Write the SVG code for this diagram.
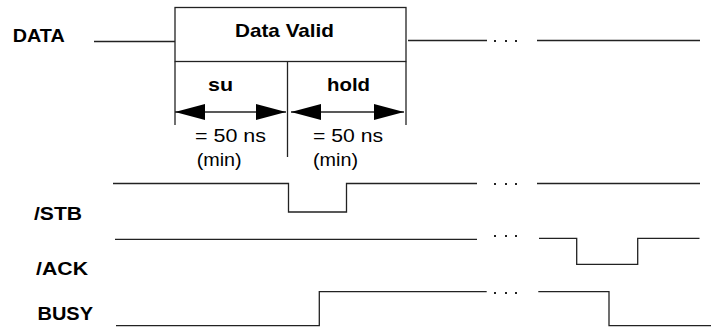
<svg xmlns="http://www.w3.org/2000/svg" width="712" height="328" viewBox="0 0 712 328">
  <defs>
    <style>
      .sig { fill: none; stroke: #222; stroke-width: 1.3; }
      .lbl { font-family: "Liberation Sans", Arial, sans-serif; font-size: 19px; font-weight: bold; fill: #000; }
      .txt { font-family: "Liberation Sans", Arial, sans-serif; font-size: 18px; fill: #000; }
      .dot { fill: #222; }
    </style>
    <marker id="head" viewBox="0 0 30 16" refX="30" refY="8" markerWidth="30" markerHeight="16" markerUnits="userSpaceOnUse" orient="auto-start-reverse">
      <path d="M0,0 L30,8 L0,16 Z" fill="#000"/>
    </marker>
  </defs>
  <rect width="712" height="328" fill="#fff"/>

  <!-- signal names -->
  <g id="label-data"><text class="lbl" x="12.7" y="42" textLength="52" lengthAdjust="spacingAndGlyphs">DATA</text></g>
  <g id="label-stb"><text class="lbl" x="34" y="220" textLength="48" lengthAdjust="spacingAndGlyphs">/STB</text></g>
  <g id="label-ack"><text class="lbl" x="36" y="275" textLength="52" lengthAdjust="spacingAndGlyphs">/ACK</text></g>
  <g id="label-busy"><text class="lbl" x="37.5" y="320" textLength="55.5" lengthAdjust="spacingAndGlyphs">BUSY</text></g>

  <!-- DATA waveform with valid window -->
  <g id="data-valid">
    <rect class="sig" x="175" y="7.5" width="231" height="54"/>
    <text class="lbl" x="235" y="36.5" textLength="99" lengthAdjust="spacingAndGlyphs">Data Valid</text>
  </g>

  <g id="connectors">
    <!-- DATA -->
    <line class="sig" x1="94" y1="41.5" x2="175" y2="41.5"/>
    <line class="sig" x1="408" y1="40.5" x2="487" y2="40.5"/>
    <line class="sig" x1="537" y1="40.5" x2="700" y2="40.5"/>
    <rect class="dot" x="494" y="40" width="2" height="2"/>
    <rect class="dot" x="505" y="40" width="2" height="2"/>
    <rect class="dot" x="515" y="40" width="2" height="2"/>

    <!-- timing reference lines -->
    <line class="sig" x1="175" y1="61.5" x2="175" y2="125"/>
    <line class="sig" x1="287.5" y1="61.5" x2="287.5" y2="157"/>
    <line class="sig" x1="406" y1="61.5" x2="406" y2="125"/>

    <!-- setup / hold dimension arrows -->
    <line class="sig" x1="175" y1="112" x2="286" y2="112" marker-start="url(#head)" marker-end="url(#head)"/>
    <line class="sig" x1="291" y1="112" x2="404" y2="112" marker-start="url(#head)" marker-end="url(#head)"/>

    <!-- /STB -->
    <polyline class="sig" points="113,183.5 288.5,183.5 288.5,212 346.5,212 346.5,183.5 477,183.5"/>
    <line class="sig" x1="537" y1="183.5" x2="700" y2="183.5"/>
    <rect class="dot" x="494" y="183" width="2" height="2"/>
    <rect class="dot" x="505" y="183" width="2" height="2"/>
    <rect class="dot" x="515" y="183" width="2" height="2"/>

    <!-- /ACK -->
    <line class="sig" x1="115" y1="239.3" x2="477" y2="239.3"/>
    <polyline class="sig" points="539,238.3 576.7,238.3 576.7,264.3 637.7,264.3 637.7,238.3 699.5,238.3"/>
    <rect class="dot" x="494" y="235" width="2" height="2"/>
    <rect class="dot" x="505" y="235" width="2" height="2"/>
    <rect class="dot" x="515" y="235" width="2" height="2"/>

    <!-- BUSY -->
    <polyline class="sig" points="116,325.7 319.3,325.7 319.3,291.7 486.7,291.7"/>
    <polyline class="sig" points="538.3,291.7 609,291.7 609,325.7 711,325.7"/>
    <rect class="dot" x="494" y="292" width="2" height="2"/>
    <rect class="dot" x="505" y="292" width="2" height="2"/>
    <rect class="dot" x="515" y="292" width="2" height="2"/>
  </g>

  <!-- setup annotation -->
  <g id="setup">
    <text class="lbl" x="208" y="91" textLength="25" lengthAdjust="spacingAndGlyphs">su</text>
    <text class="txt" x="195" y="141.5" textLength="71" lengthAdjust="spacingAndGlyphs">= 50 ns</text>
    <text class="txt" x="196.7" y="166" textLength="45" lengthAdjust="spacingAndGlyphs">(min)</text>
  </g>

  <!-- hold annotation -->
  <g id="hold">
    <text class="lbl" x="327" y="91" textLength="43" lengthAdjust="spacingAndGlyphs">hold</text>
    <text class="txt" x="313" y="141.5" textLength="70" lengthAdjust="spacingAndGlyphs">= 50 ns</text>
    <text class="txt" x="313" y="166" textLength="45" lengthAdjust="spacingAndGlyphs">(min)</text>
  </g>
</svg>
